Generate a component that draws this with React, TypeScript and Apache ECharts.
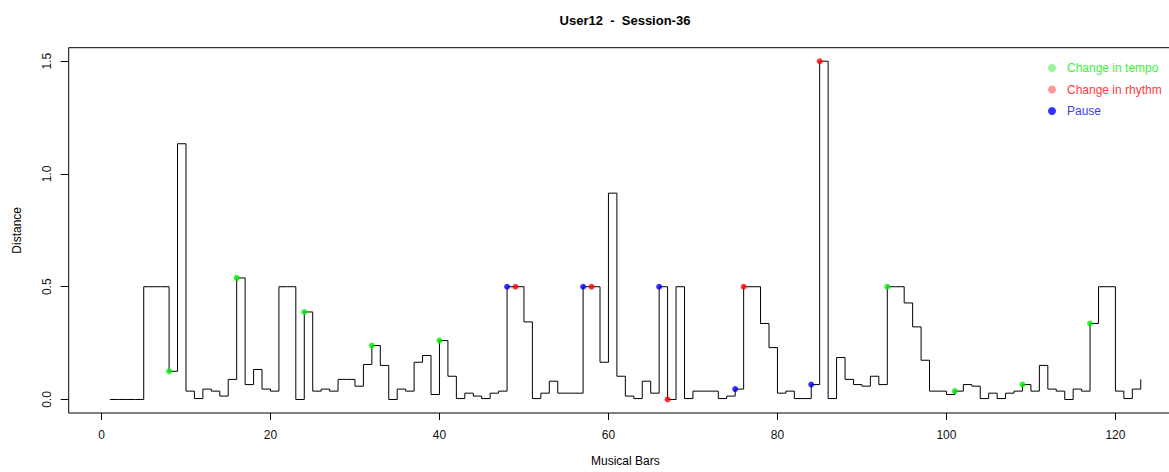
import React, { useEffect, useRef } from "react";
import * as echarts from "echarts";

// Musical bar numbers 1..123 and the distance held from each bar (type "s" step)
const bars: number[] = Array.from({ length: 123 }, (_, i) => i + 1);
const distance: number[] = [
  0, 0, 0, 0, 0.5, 0.5, 0.5, 0.125, 1.134, 0.037, // 1-10
  0.004, 0.046, 0.037, 0.015, 0.089, 0.539, 0.066, 0.133, 0.046, 0.037, // 11-20
  0.5, 0.5, 0, 0.388, 0.037, 0.046, 0.037, 0.089, 0.089, 0.059, // 21-30
  0.155, 0.239, 0.151, 0, 0.046, 0.037, 0.165, 0.195, 0.022, 0.261, // 31-40
  0.103, 0.004, 0.028, 0.015, 0.004, 0.028, 0.037, 0.5, 0.5, 0.344, // 41-50
  0.004, 0.028, 0.081, 0.028, 0.028, 0.028, 0.5, 0.5, 0.165, 0.915, // 51-60
  0.103, 0.015, 0.004, 0.081, 0.028, 0.5, 0, 0.5, 0.004, 0.037, // 61-70
  0.037, 0.037, 0.004, 0.015, 0.046, 0.5, 0.5, 0.337, 0.23, 0.028, // 71-80
  0.037, 0.004, 0.004, 0.066, 1.5, 0.004, 0.186, 0.089, 0.066, 0.059, // 81-90
  0.103, 0.066, 0.5, 0.5, 0.428, 0.322, 0.174, 0.037, 0.037, 0.022, // 91-100
  0.037, 0.066, 0.059, 0.004, 0.028, 0.004, 0.028, 0.037, 0.066, 0.037, // 101-110
  0.151, 0.046, 0.037, 0, 0.046, 0.037, 0.337, 0.5, 0.5, 0.037, // 111-120
  0.004, 0.046, 0.089, // 121-123
];

const tempoBars: number[] = [8, 16, 24, 32, 40, 93, 101, 109, 117];
const rhythmBars: number[] = [49, 58, 67, 76, 85];
const pauseBars: number[] = [48, 57, 66, 75, 84];

const xTicks: number[] = [0, 20, 40, 60, 80, 100, 120];
const yTicks: number[] = [0, 0.5, 1, 1.5];

const TITLE = "User12  -  Session-36";
const X_NAME = "Musical Bars";
const Y_NAME = "Distance";
const LEGEND_NAMES = ["Change in tempo", "Change in rhythm", "Pause"];

const FONT = "'Liberation Sans', Arial, sans-serif";

function pts(list: number[]) {
  return list.map((b) => [b, distance[bars.indexOf(b)]]);
}

export default function App() {
  const ref = useRef<HTMLDivElement>(null);
  useEffect(() => {
    if (!ref.current) return;
    const chart = echarts.init(ref.current, null, { renderer: "svg" });
    const xmin = 1 - 0.04 * 122;
    const xmax = 123 + 0.04 * 122;
    chart.setOption({
      animation: false,
      backgroundColor: "#fff",
      textStyle: { fontFamily: FONT },
      grid: {
        left: 68.7,
        top: 47.7,
        right: 13,
        bottom: 55.3,
        show: true,
        borderColor: "#000",
        borderWidth: 1,
        backgroundColor: "transparent",
      },
      graphic: [
        {
          type: "text",
          x: 625,
          y: 20,
          style: {
            text: TITLE,
            fontSize: 13,
            fontWeight: "bold",
            fontFamily: FONT,
            fill: "#000",
            align: "center",
            verticalAlign: "middle",
          },
        },
      ],
      legend: {
        orient: "vertical",
        left: 1043,
        top: 57,
        itemWidth: 16,
        itemHeight: 8,
        itemGap: 9.5,
        textStyle: { fontSize: 12, fontFamily: FONT, padding: [0, 0, 0, 2] },
        data: [
          { name: LEGEND_NAMES[0], icon: "circle", itemStyle: { color: "#7ff07f" }, textStyle: { color: "#3ef03e" } },
          { name: LEGEND_NAMES[1], icon: "circle", itemStyle: { color: "#ff8080" }, textStyle: { color: "#ff3a3a" } },
          { name: LEGEND_NAMES[2], icon: "circle", itemStyle: { color: "#0000ff" }, textStyle: { color: "#3a3aff" } },
        ],
      },
      xAxis: {
        type: "value",
        min: xmin,
        max: xmax,
        name: X_NAME,
        nameLocation: "middle",
        nameGap: 42,
        nameTextStyle: { fontSize: 12, color: "#000", fontFamily: FONT },
        axisLine: { show: false, onZero: false },
        splitLine: { show: false },
        axisTick: {
          show: true,
          length: 7,
          customValues: xTicks,
          lineStyle: { color: "#000" },
        },
        axisLabel: {
          customValues: xTicks,
          fontSize: 12,
          color: "#111",
          margin: 16,
          fontFamily: FONT,
          formatter: (v: number) => String(v),
        },
      },
      yAxis: {
        type: "value",
        min: -0.06,
        max: 1.56,
        name: Y_NAME,
        nameLocation: "middle",
        nameGap: 46,
        nameTextStyle: { fontSize: 12, color: "#000", fontFamily: FONT },
        axisLine: { show: false, onZero: false },
        splitLine: { show: false },
        axisTick: {
          show: true,
          length: 8,
          customValues: yTicks,
          lineStyle: { color: "#000" },
        },
        axisLabel: {
          customValues: yTicks,
          rotate: 90,
          fontSize: 12,
          color: "#111",
          margin: 16,
          fontFamily: FONT,
          formatter: (v: number) => v.toFixed(1),
        },
      },
      series: [
        {
          type: "line",
          name: "distance",
          step: "end",
          showSymbol: false,
          data: bars.map((b, i) => [b, distance[i]]),
          lineStyle: { color: "#000", width: 1 },
          itemStyle: { color: "#000" },
          z: 2,
        },
        {
          type: "scatter",
          name: LEGEND_NAMES[0],
          data: pts(tempoBars),
          symbol: "circle",
          symbolSize: 6,
          itemStyle: { color: "#00ee00" },
          z: 3,
        },
        {
          type: "scatter",
          name: LEGEND_NAMES[1],
          data: pts(rhythmBars),
          symbol: "circle",
          symbolSize: 6,
          itemStyle: { color: "#ff0000" },
          z: 3,
        },
        {
          type: "scatter",
          name: LEGEND_NAMES[2],
          data: pts(pauseBars),
          symbol: "circle",
          symbolSize: 6,
          itemStyle: { color: "#0000ff" },
          z: 3,
        },
      ],
    });
    return () => chart.dispose();
  }, []);
  return (
    <div
      style={{
        position: "fixed",
        left: 0,
        top: 0,
        width: 1169,
        height: 472,
        overflow: "hidden",
        background: "#fff",
      }}
    >
      <div ref={ref} style={{ width: 1195, height: 472 }} />
    </div>
  );
}
